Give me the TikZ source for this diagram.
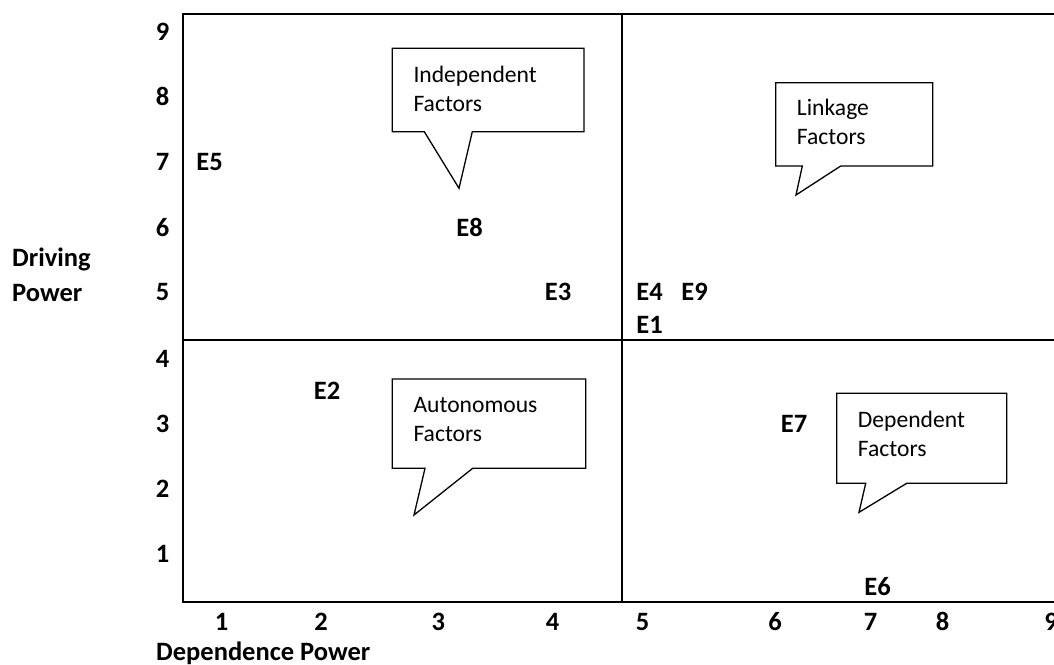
\documentclass[tikz,border=0pt]{standalone}
\usepackage{fontspec}
\setmainfont{Carlito}
\usetikzlibrary{positioning}
\tikzset{
    factor/.style={font=\fontsize{26.5}{30}\selectfont\bfseries, inner sep=0pt},
    tick/.style={font=\fontsize{26.5}{30}\selectfont\bfseries, inner sep=0pt},
    bubbleText/.style={font=\fontsize{23.6}{28.5}\selectfont, align=left, anchor=west, inner sep=0pt},
    bubble/.style={draw, line width=1.3pt, line join=miter, fill=white}
}

\begin{document}
\begin{tikzpicture}[x=1pt, y=-1pt]
		\useasboundingbox (0,0) rectangle (1054,664);
		\clip (0,0) rectangle (1054,664);
		% quadrants
		\draw[line width=2.2pt] (182.7,13.7) rectangle (1070,601.7);
		\draw[line width=2.2pt] (621.9,13.7) -- (621.9,601.7);
		\draw[line width=2.2pt] (182.7,340) -- (1070,340);
		% driving power scale
		\foreach \v/\y in {9/31.7, 8/96.7, 7/162.3, 6/227.7, 5/291.7, 4/359.3, 3/424.3, 2/489.3, 1/554.3}
			\node[tick] (dp\v) at (162.7,\y) {\v};
		% dependence power scale
		\foreach \v/\x in {1/221.7, 2/321, 3/438.3, 4/552.7, 5/642.7, 6/775, 7/870.7, 8/942.7, 9/1051}
			\node[tick] (dep\v) at (\x,621.7) {\v};
		\node[tick, anchor=base west] (xlabel) at (156,660) {Dependence Power};
		\node[tick, anchor=base west] (ylabel) at (12,266.7) {Driving};
		\node[tick, anchor=base west] (ylabel2) at (12,301) {Power};
		% elements
		\node[factor] (E5) at (209.5,162.3) {E5};
		\node[factor] (E8) at (469.5,227.7) {E8};
		\node[factor] (E3) at (558,291.7) {E3};
		\node[factor] (E4) at (649.5,291.7) {E4};
		\node[factor] (E9) at (694.5,291.7) {E9};
		\node[factor] (E1) at (649.5,325) {E1};
		\node[factor] (E2) at (327,390.7) {E2};
		\node[factor] (E7) at (794,424.3) {E7};
		\node[factor] (E6) at (877.5,586.7) {E6};
		% callouts
		\draw[bubble] (392.3,48.3) -- (584,48.3) -- (584,131.7) -- (472.3,131.7) -- (459,188.3) -- (424.3,131.7) -- (392.3,131.7) -- cycle;
		\node[bubbleText] (independent) at (413.3,89) {Independent\\Factors};
		\draw[bubble] (775.7,82.7) -- (932.7,82.7) -- (932.7,166) -- (840.7,166) -- (796,195) -- (802.3,166) -- (775.7,166) -- cycle;
		\node[bubbleText] (linkage) at (796.7,122) {Linkage\\Factors};
		\draw[bubble] (392.3,379) -- (585.7,379) -- (585.7,468.3) -- (472.7,468.3) -- (414,515) -- (425,468.3) -- (392.3,468.3) -- cycle;
		\node[bubbleText] (autonomous) at (413.3,419.5) {Autonomous\\Factors};
		\draw[bubble] (836.7,393.3) -- (1006.7,393.3) -- (1006.7,483.3) -- (906.7,483.3) -- (859,512.3) -- (865.7,483.3) -- (836.7,483.3) -- cycle;
		\node[bubbleText] (dependent) at (857.7,434) {Dependent\\Factors};
\end{tikzpicture}
\end{document}
